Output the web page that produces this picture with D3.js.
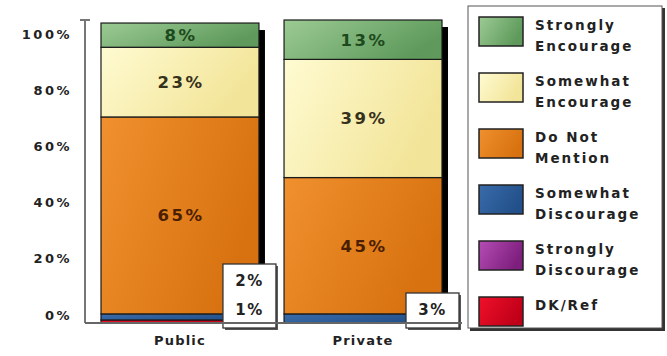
<!DOCTYPE html>
<html>
<head>
<meta charset="utf-8">
<script src="https://cdn.jsdelivr.net/npm/d3@7"></script>
<style>
  html, body { margin: 0; padding: 0; background: #fff; }
  svg { display: block; font-family: "DejaVu Sans", Verdana, sans-serif; font-weight: bold; }
</style>
</head>
<body>
<svg id="chart" width="667" height="356"></svg>
<script>
// Survey groups (x categories)
const groups = ["Public", "Private"];
// Response categories, top of legend first
const responses = ["Strongly Encourage", "Somewhat Encourage", "Do Not Mention",
                   "Somewhat Discourage", "Strongly Discourage", "DK/Ref"];
// Percent per response, same order as responses
const publicValues  = [8, 23, 65, 2, 0, 1];
const privateValues = [13, 39, 45, 3, 0, 0];
// Y axis tick labels
const yTicks = [0, 20, 40, 60, 80, 100];

const colors = {
  "Strongly Encourage":  ["#9ccb94", "#5f9a5c"],
  "Somewhat Encourage":  ["#fffbd2", "#f2e498"],
  "Do Not Mention":      ["#f0902e", "#d87210"],
  "Somewhat Discourage": ["#3a6cab", "#22508a"],
  "Strongly Discourage": ["#b54cb5", "#7e1f7e"],
  "DK/Ref":              ["#f0102a", "#c00018"]
};
const labelInk = {
  "Strongly Encourage": "#1d4a1d",
  "Somewhat Encourage": "#35311a",
  "Do Not Mention": "#4a1e00"
};

const svg = d3.select("#chart");
const defs = svg.append("defs");
responses.forEach((r, i) => {
  const g = defs.append("linearGradient").attr("id", "grad" + i)
    .attr("x1", "0").attr("y1", "0").attr("x2", "1").attr("y2", "0.4");
  g.append("stop").attr("offset", "0%").attr("stop-color", colors[r][0]);
  g.append("stop").attr("offset", "100%").attr("stop-color", colors[r][1]);
});

const x = d3.scaleBand().domain(groups).range([101, 442]).paddingInner(0.137).paddingOuter(0);
const y = d3.scaleLinear().domain([0, 100]).range([323, 20]);
// Tick labels sit slightly inside the plotted span
const yLabel = d3.scaleLinear().domain([0, 100]).range([315, 34]);

// rows keyed by response for the stack
const rows = groups.map((g, gi) => {
  const vals = gi === 0 ? publicValues : privateValues;
  const row = { group: g };
  responses.forEach((r, i) => row[r] = vals[i]);
  return row;
});
const stackOrder = responses.slice().reverse(); // DK/Ref at the bottom
const series = d3.stack().keys(stackOrder)(rows);

// Shadow behind each bar
svg.append("g").selectAll("rect").data(rows).join("rect")
  .attr("x", d => x(d.group) + 6)
  .attr("y", d => y(d3.sum(responses, r => d[r])) + 7)
  .attr("width", x.bandwidth())
  .attr("height", d => y(0) - y(d3.sum(responses, r => d[r])) - 7)
  .attr("fill", "#000");

// Stacked segments
const segG = svg.append("g");
series.forEach(s => {
  const idx = responses.indexOf(s.key);
  segG.selectAll(null).data(s.filter(d => d[1] - d[0] > 0)).join("rect")
    .attr("x", d => x(d.data.group))
    .attr("y", d => y(d[1]))
    .attr("width", x.bandwidth())
    .attr("height", d => y(d[0]) - y(d[1]))
    .attr("fill", `url(#grad${idx})`)
    .attr("stroke", "#1a1a1a")
    .attr("stroke-width", 1.2);
});

// Labels inside the larger segments
series.forEach(s => {
  segG.selectAll(null).data(s.filter(d => d[1] - d[0] >= 5)).join("text")
    .attr("x", d => x(d.data.group) + x.bandwidth() / 2 + 1)
    .attr("y", d => (y(d[0]) + y(d[1])) / 2 + 6)
    .attr("text-anchor", "middle")
    .attr("font-size", 16.5)
    .attr("letter-spacing", 2.5)
    .attr("fill", labelInk[s.key] || "#222")
    .text(d => (d[1] - d[0]) + "%");
});

// Callout boxes for the thin segments at the bottom
rows.forEach(row => {
  const small = responses.filter(r => row[r] > 0 && row[r] < 5);
  if (!small.length) return;
  const right = x(row.group) + x.bandwidth();
  const lineH = 29;
  const h = small.length * lineH + 6;
  const bx = right - 36, bw = 53, by = y(0) + 5 - h;
  const cg = svg.append("g");
  cg.append("rect").attr("x", bx + 2).attr("y", by + 2).attr("width", bw).attr("height", h)
    .attr("fill", "#555");
  cg.append("rect").attr("x", bx).attr("y", by).attr("width", bw).attr("height", h)
    .attr("fill", "#fff").attr("stroke", "#333").attr("stroke-width", 1.3);
  small.forEach((r, i) => {
    cg.append("text")
      .attr("x", bx + bw / 2)
      .attr("y", by + 22 + i * lineH)
      .attr("text-anchor", "middle")
      .attr("font-size", 15)
      .attr("letter-spacing", 1.5)
      .attr("fill", "#222")
      .text(row[r] + "%");
  });
});

// Y axis
svg.append("line").attr("x1", 85).attr("x2", 85).attr("y1", y(100)).attr("y2", y(0))
  .attr("stroke", "#777").attr("stroke-width", 2);
svg.append("line").attr("x1", 80).attr("x2", 90).attr("y1", y(100)).attr("y2", y(100))
  .attr("stroke", "#777").attr("stroke-width", 2);
const yAxis = svg.append("g").attr("transform", "translate(72,0)")
  .call(d3.axisLeft(yLabel).tickValues(yTicks).tickSize(0).tickPadding(0)
        .tickFormat(d => d + "%"));
yAxis.select(".domain").remove();
yAxis.selectAll("text")
  .attr("font-family", "DejaVu Sans, sans-serif")
  .attr("font-weight", "bold")
  .attr("font-size", 13)
  .attr("letter-spacing", 2.5)
  .attr("fill", "#222");

// Baseline
svg.append("line").attr("x1", 85).attr("x2", 462).attr("y1", y(0)).attr("y2", y(0))
  .attr("stroke", "#666").attr("stroke-width", 2);

// X axis labels
const xAxis = svg.append("g").attr("transform", `translate(0,${y(0)})`)
  .call(d3.axisBottom(x).tickSize(0).tickPadding(13));
xAxis.select(".domain").remove();
xAxis.selectAll("text")
  .attr("font-family", "DejaVu Sans, sans-serif")
  .attr("font-weight", "bold")
  .attr("font-size", 13)
  .attr("letter-spacing", 1.2)
  .attr("fill", "#222");

// Legend
const lg = svg.append("g");
lg.append("rect").attr("x", 470).attr("y", 8).attr("width", 195).attr("height", 323)
  .attr("fill", "#333");
lg.append("rect").attr("x", 468).attr("y", 6).attr("width", 194).attr("height", 322)
  .attr("fill", "#fff").attr("stroke", "#555").attr("stroke-width", 1);
responses.forEach((r, i) => {
  const top = 17 + i * 56;
  lg.append("rect").attr("x", 479).attr("y", top).attr("width", 44).attr("height", 29)
    .attr("fill", `url(#grad${i})`).attr("stroke", "#222").attr("stroke-width", 1.5);
  const words = r === "DK/Ref" ? ["DK/Ref"]
              : r === "Do Not Mention" ? ["Do Not", "Mention"]
              : r.split(" ");
  words.forEach((w, j) => {
    lg.append("text")
      .attr("x", 535)
      .attr("y", top + 13 + j * 21)
      .attr("font-size", 13.5)
      .attr("letter-spacing", 2)
      .attr("fill", "#222")
      .text(w);
  });
});
</script>
</body>
</html>
